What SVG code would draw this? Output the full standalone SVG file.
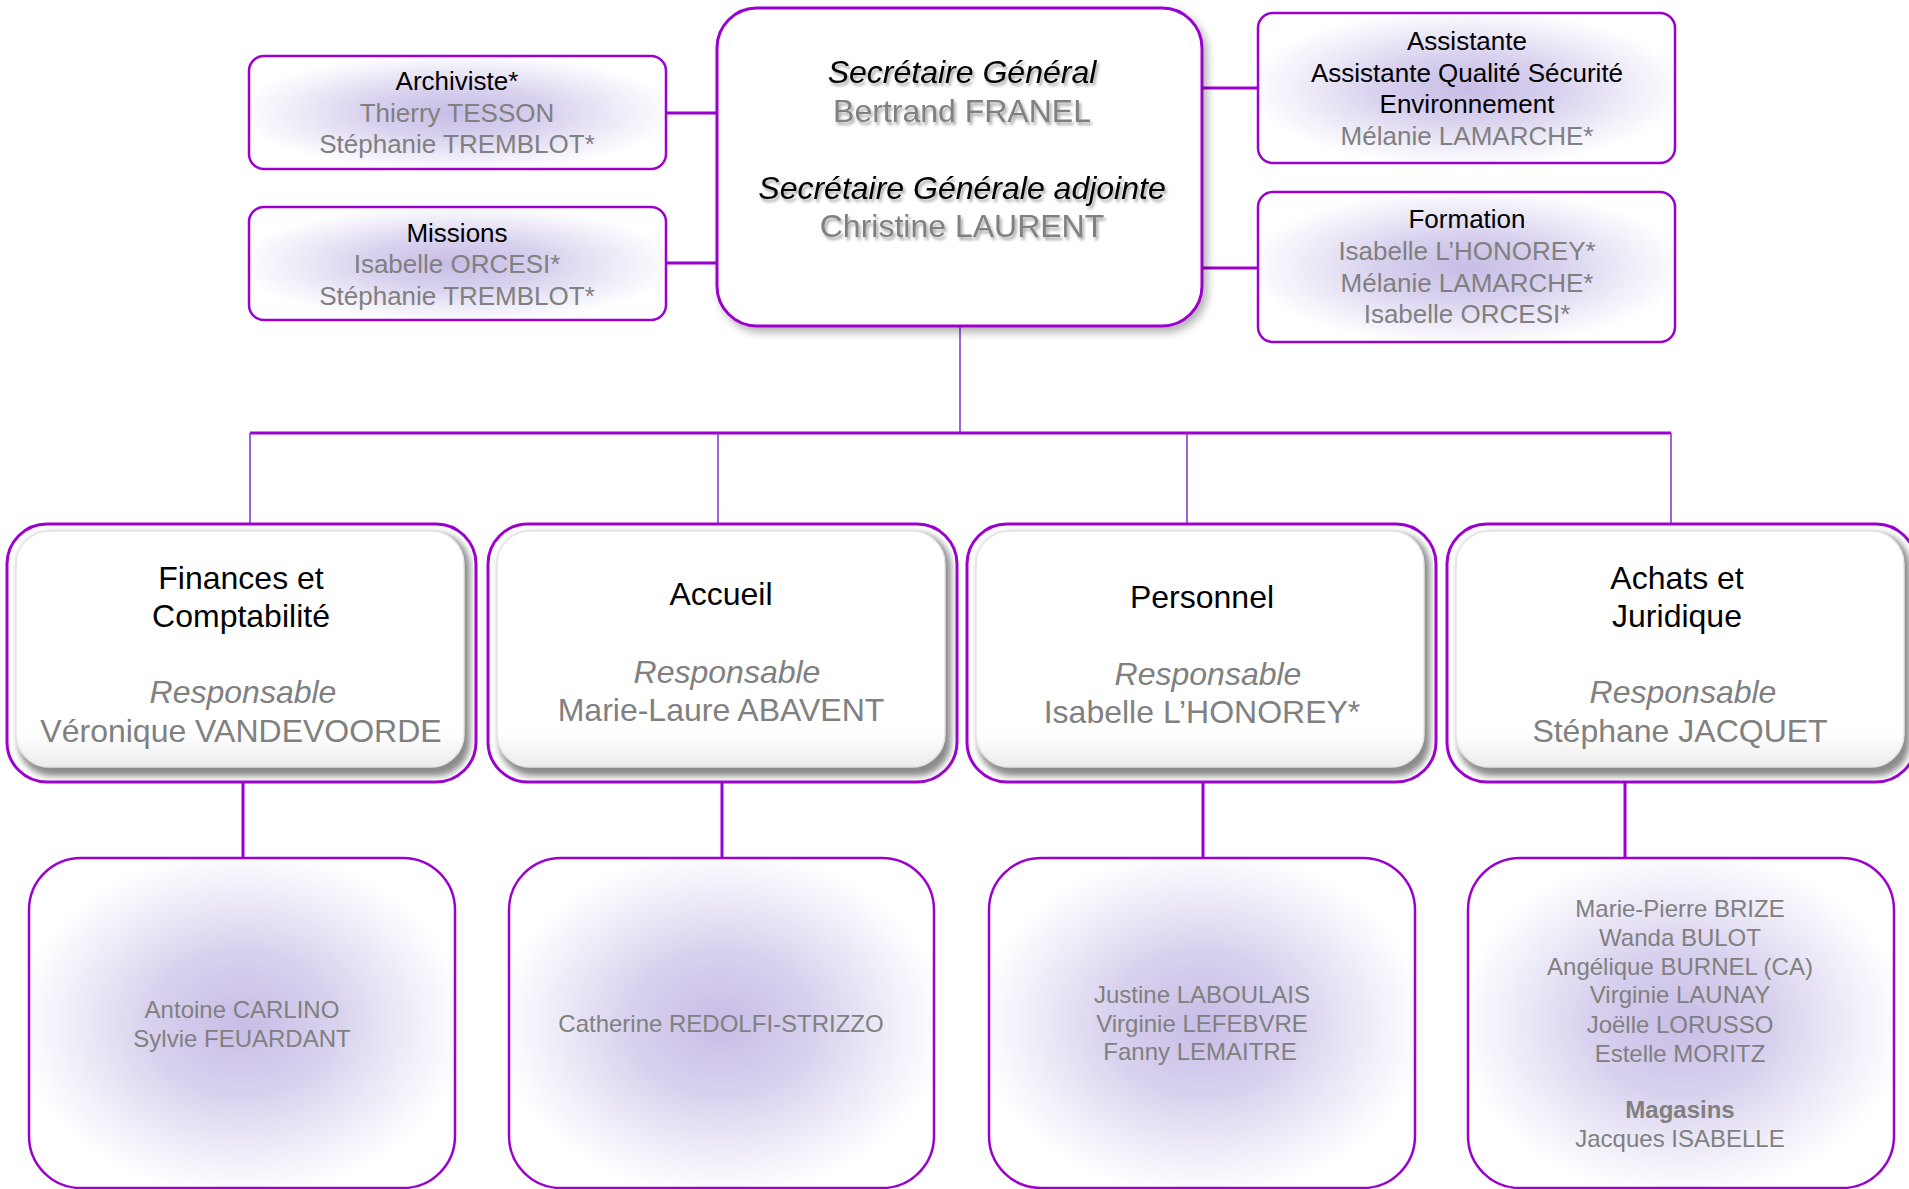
<svg xmlns="http://www.w3.org/2000/svg" xmlns:xlink="http://www.w3.org/1999/xlink" width="1909" height="1189" viewBox="0 0 1909 1189">
<style>
text{font-family:"Liberation Sans",Arial,sans-serif;text-anchor:middle}
.t{fill:#000}
.g{fill:#808080}
.it{font-style:italic}
.s26{font-size:26px}
.s24{font-size:24px}
.s32{font-size:32px}
.box1{fill:url(#lav);stroke:#9b00cf;stroke-width:2.5}
.box3{fill:url(#lav);stroke:#9b00cf;stroke-width:2.5}
.thick{stroke:#9b00cf;stroke-width:3;fill:none}
.thin{stroke:#8040d0;stroke-width:1.6;fill:none}
</style>
<defs>
<radialGradient id="lav" cx="0.5" cy="0.5" r="0.62">
<stop offset="0" stop-color="#c8bde6"/>
<stop offset="0.35" stop-color="#d8d1ee"/>
<stop offset="0.62" stop-color="#eeebf8"/>
<stop offset="0.85" stop-color="#ffffff"/>
</radialGradient>
<linearGradient id="face" x1="0" y1="0" x2="0" y2="1">
<stop offset="0" stop-color="#ffffff"/>
<stop offset="0.85" stop-color="#ffffff"/>
<stop offset="1" stop-color="#ececec"/>
</linearGradient>
<filter id="blur3" x="-10%" y="-10%" width="120%" height="120%"><feGaussianBlur stdDeviation="3"/></filter>
<filter id="boxsh" x="-10%" y="-10%" width="125%" height="125%"><feDropShadow dx="4" dy="5" stdDeviation="4" flood-color="#000" flood-opacity="0.3"/></filter>
<filter id="txtsh" x="-10%" y="-20%" width="120%" height="150%"><feDropShadow dx="2" dy="3" stdDeviation="1.5" flood-color="#000" flood-opacity="0.35"/></filter>
<symbol id="l2" overflow="visible">
<rect x="0" y="0" width="469" height="258" rx="40" fill="#ffffff" stroke="#9b00cf" stroke-width="3"/>
<rect x="11" y="9" width="452" height="243" rx="34" fill="#8a8a8a" filter="url(#blur3)"/>
<rect x="9" y="7" width="448" height="236" rx="33" fill="url(#face)" stroke="#e4e4e4" stroke-width="1.5"/>
</symbol>
</defs>
<rect width="1909" height="1189" fill="#ffffff"/>

<g id="connectors">
<line class="thick" x1="666" y1="113" x2="717" y2="113"/>
<line class="thick" x1="666" y1="263" x2="717" y2="263"/>
<line class="thick" x1="1202" y1="88" x2="1258" y2="88"/>
<line class="thick" x1="1202" y1="268" x2="1258" y2="268"/>
<line class="thin" x1="960" y1="326" x2="960" y2="433"/>
<line class="thick" x1="250" y1="433" x2="1671" y2="433"/>
<line class="thin" x1="250" y1="433" x2="250" y2="524"/>
<line class="thin" x1="718" y1="433" x2="718" y2="524"/>
<line class="thin" x1="1187" y1="433" x2="1187" y2="524"/>
<line class="thin" x1="1671" y1="433" x2="1671" y2="524"/>
<line class="thick" x1="243" y1="782" x2="243" y2="858"/>
<line class="thick" x1="722" y1="782" x2="722" y2="858"/>
<line class="thick" x1="1203" y1="782" x2="1203" y2="858"/>
<line class="thick" x1="1625" y1="782" x2="1625" y2="858"/>
</g>

<g id="secretariat">
<rect x="717" y="8" width="485" height="318" rx="40" fill="#ffffff" stroke="#9b00cf" stroke-width="3" filter="url(#boxsh)"/>
<g filter="url(#txtsh)">
<text class="t it s32" x="962" y="83">Secrétaire Général</text>
<text class="g s32" x="962" y="122">Bertrand FRANEL</text>
<text class="t it s32" x="962" y="199">Secrétaire Générale adjointe</text>
<text class="g s32" x="962" y="237">Christine LAURENT</text>
</g>
</g>

<g id="archiviste">
<rect class="box1" x="249" y="56" width="417" height="113" rx="15"/>
<text class="t s26" x="457" y="90">Archiviste*</text>
<text class="g s26" x="457" y="122">Thierry TESSON</text>
<text class="g s26" x="457" y="153">Stéphanie TREMBLOT*</text>
</g>

<g id="missions">
<rect class="box1" x="249" y="207" width="417" height="113" rx="15"/>
<text class="t s26" x="457" y="242">Missions</text>
<text class="g s26" x="457" y="273">Isabelle ORCESI*</text>
<text class="g s26" x="457" y="305">Stéphanie TREMBLOT*</text>
</g>

<g id="assistante">
<rect class="box1" x="1258" y="13" width="417" height="150" rx="15"/>
<text class="t s26" x="1467" y="50">Assistante</text>
<text class="t s26" x="1467" y="82">Assistante Qualité Sécurité</text>
<text class="t s26" x="1467" y="113">Environnement</text>
<text class="g s26" x="1467" y="145">Mélanie LAMARCHE*</text>
</g>

<g id="formation">
<rect class="box1" x="1258" y="192" width="417" height="150" rx="15"/>
<text class="t s26" x="1467" y="228">Formation</text>
<text class="g s26" x="1467" y="260">Isabelle L’HONOREY*</text>
<text class="g s26" x="1467" y="292">Mélanie LAMARCHE*</text>
<text class="g s26" x="1467" y="323">Isabelle ORCESI*</text>
</g>

<g id="finances">
<use xlink:href="#l2" x="7" y="524"/>
<text class="t s32" x="241" y="589">Finances et</text>
<text class="t s32" x="241" y="627">Comptabilité</text>
<text class="g it s32" x="243" y="703">Responsable</text>
<text class="g s32" x="241" y="742">Véronique VANDEVOORDE</text>
</g>

<g id="accueil">
<use xlink:href="#l2" x="488" y="524"/>
<text class="t s32" x="721" y="605">Accueil</text>
<text class="g it s32" x="727" y="683">Responsable</text>
<text class="g s32" x="721" y="721">Marie-Laure ABAVENT</text>
</g>

<g id="personnel">
<use xlink:href="#l2" x="967" y="524"/>
<text class="t s32" x="1202" y="608">Personnel</text>
<text class="g it s32" x="1208" y="685">Responsable</text>
<text class="g s32" x="1202" y="723">Isabelle L’HONOREY*</text>
</g>

<g id="achats">
<use xlink:href="#l2" x="1447" y="524"/>
<text class="t s32" x="1677" y="589">Achats et</text>
<text class="t s32" x="1677" y="627">Juridique</text>
<text class="g it s32" x="1683" y="703">Responsable</text>
<text class="g s32" x="1680" y="742">Stéphane JACQUET</text>
</g>

<g id="equipe-finances">
<rect class="box3" x="29" y="858" width="426" height="330" rx="52"/>
<text class="g s24" x="242" y="1018">Antoine CARLINO</text>
<text class="g s24" x="242" y="1047">Sylvie FEUARDANT</text>
</g>

<g id="equipe-accueil">
<rect class="box3" x="509" y="858" width="425" height="330" rx="52"/>
<text class="g s24" x="721" y="1032">Catherine REDOLFI-STRIZZO</text>
</g>

<g id="equipe-personnel">
<rect class="box3" x="989" y="858" width="426" height="330" rx="52"/>
<text class="g s24" x="1202" y="1003">Justine LABOULAIS</text>
<text class="g s24" x="1202" y="1032">Virginie LEFEBVRE</text>
<text class="g s24" x="1200" y="1060">Fanny LEMAITRE</text>
</g>

<g id="equipe-achats">
<rect class="box3" x="1468" y="858" width="426" height="330" rx="52"/>
<text class="g s24" x="1680" y="917">Marie-Pierre BRIZE</text>
<text class="g s24" x="1680" y="946">Wanda BULOT</text>
<text class="g s24" x="1680" y="975">Angélique BURNEL (CA)</text>
<text class="g s24" x="1680" y="1003">Virginie LAUNAY</text>
<text class="g s24" x="1680" y="1033">Joëlle LORUSSO</text>
<text class="g s24" x="1680" y="1062">Estelle MORITZ</text>
<text class="g s24" x="1680" y="1118" font-weight="bold">Magasins</text>
<text class="g s24" x="1680" y="1147">Jacques ISABELLE</text>
</g>
</svg>
